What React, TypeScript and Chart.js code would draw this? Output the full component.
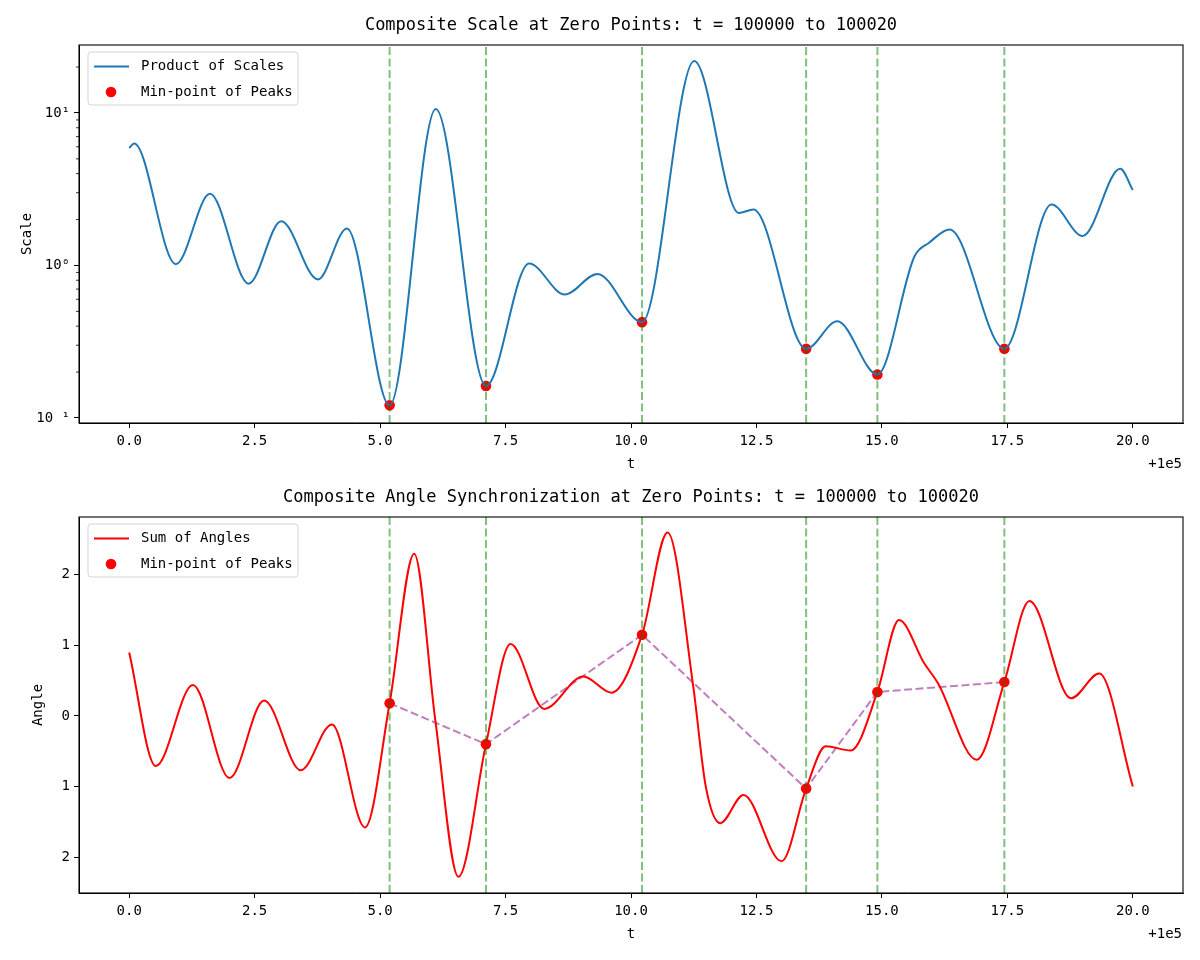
import { useEffect, useRef } from 'react'
import { Chart, registerables } from 'chart.js'

Chart.register(...registerables)

const FONT = '"DejaVu Sans Mono", "Liberation Mono", monospace'

// t offsets from 100000 (axis shows +1e5)
const scaleT = [
  0.0, 0.1, 0.93, 1.61, 2.38, 3.03, 3.76, 4.34, 5.19, 6.11, 7.11, 7.97, 8.68, 9.33, 10.22,
  11.26, 12.15, 12.44, 13.49, 14.11, 14.91, 15.65, 15.94, 16.35, 17.44, 18.38, 19.0,
  19.75, 20.0,
]
const scaleValues = [
  5.9, 6.3, 1.02, 2.95, 0.76, 1.95, 0.81, 1.75, 0.121, 10.6, 0.162, 1.03, 0.645, 0.88, 0.425,
  21.9, 2.21, 2.33, 0.284, 0.43, 0.193, 1.15, 1.41, 1.72, 0.284, 2.51, 1.56, 4.31, 3.12,
]

const angleT = [
  0.0, 0.53, 1.27, 2.0, 2.69, 3.42, 4.04, 4.7, 5.19, 5.68, 6.1, 6.56, 7.11, 7.6, 8.27, 9.05, 9.61,
  10.22, 10.73, 11.24, 11.49, 11.78, 12.24, 13.0, 13.49, 13.88, 14.38, 14.91, 15.34, 15.84, 16.12,
  16.89, 17.44, 17.94, 18.77, 19.33, 20.0,
]
const angleValues = [
  0.9, -0.71, 0.44, -0.88, 0.22, -0.77, -0.12, -1.58, 0.18, 2.3, -0.06, -2.28, -0.4, 1.02, 0.1, 0.56,
  0.33, 1.15, 2.6, 0.42, -1.0, -1.52, -1.12, -2.06, -1.03, -0.43, -0.49, 0.34, 1.36, 0.75, 0.46,
  -0.62, 0.48, 1.63, 0.25, 0.6, -1.0,
]

const peakT = [5.19, 7.11, 10.22, 13.49, 14.91, 17.44]
const peakScale = [0.121, 0.162, 0.425, 0.284, 0.193, 0.284]
const peakAngle = [0.18, -0.4, 1.15, -1.03, 0.34, 0.48]

const xTicks = [0, 2.5, 5, 7.5, 10, 12.5, 15, 17.5, 20]
const scaleTicks = [0.1, 1, 10]
const scaleMinorTicks = [0.2, 0.3, 0.4, 0.5, 0.6, 0.7, 0.8, 0.9, 2, 3, 4, 5, 6, 7, 8, 9, 20]
const angleTicks = [-2, -1, 0, 1, 2]

type PanelProps = {
  title: string
  yLabel: string
  yLabelX: number
  lineLabel: string
  lineColor: string
  t: number[]
  values: number[]
  peaks: number[]
  logY: boolean
  yMin: number
  yMax: number
  yTicks: number[]
  minorTicks: number[]
  tickLabel: (v: number) => string
  connectPeaks: boolean
  padTop: number
  axisHeight: number
}

function Panel(p: PanelProps) {
  const canvasRef = useRef<HTMLCanvasElement | null>(null)
  const chartRef = useRef<Chart | null>(null)

  useEffect(() => {
    if (!canvasRef.current) return
    const curve = p.t.map((x, i) => ({ x, y: p.values[i] }))
    const peaks = peakT.map((x, i) => ({ x, y: p.peaks[i] }))
    const vlines = peakT.flatMap((x) => [
      { x, y: p.yMin },
      { x, y: p.yMax },
      { x, y: null },
    ])

    const datasets: any[] = [
      {
        data: vlines,
        borderColor: 'rgba(0,128,0,0.5)',
        borderWidth: 2,
        borderDash: [8, 3.5],
        pointRadius: 0,
        spanGaps: false,
        order: 0,
      },
      {
        data: curve,
        borderColor: p.lineColor,
        borderWidth: 2,
        pointRadius: 0,
        cubicInterpolationMode: 'monotone',
        order: 1,
      },
      {
        data: peaks,
        showLine: false,
        pointRadius: 5.3,
        pointBackgroundColor: 'red',
        pointBorderWidth: 0,
        order: 2,
      },
    ]
    if (p.connectPeaks) {
      datasets.push({
        data: peaks,
        borderColor: 'rgba(128,0,128,0.5)',
        borderWidth: 2,
        borderDash: [8, 3.5],
        pointRadius: 0,
        order: 3,
      })
    }

    const overlay = {
      id: 'overlay',
      afterDraw(chart: Chart) {
        const { ctx, chartArea: a } = chart
        const yScale = chart.scales.y
        ctx.save()
        ctx.strokeStyle = '#000'
        ctx.lineWidth = 1.1
        ctx.strokeRect(a.left, a.top, a.right - a.left, a.bottom - a.top)

        ctx.lineWidth = 0.8
        p.minorTicks.forEach((v) => {
          const y = yScale.getPixelForValue(v)
          ctx.beginPath()
          ctx.moveTo(a.left - 3, y)
          ctx.lineTo(a.left, y)
          ctx.stroke()
        })

        ctx.fillStyle = '#000'
        ctx.textBaseline = 'middle'
        ctx.textAlign = 'center'
        ctx.font = `17px ${FONT}`
        ctx.fillText(p.title, (a.left + a.right) / 2, a.top - 19)

        ctx.font = `14px ${FONT}`
        ctx.fillText('t', (a.left + a.right) / 2, a.bottom + 41)
        ctx.textAlign = 'right'
        ctx.fillText('+1e5', a.right - 1, a.bottom + 41)

        ctx.save()
        ctx.translate(p.yLabelX, (a.top + a.bottom) / 2)
        ctx.rotate(-Math.PI / 2)
        ctx.textAlign = 'center'
        ctx.fillText(p.yLabel, 0, 0)
        ctx.restore()

        // legend
        const lx = a.left + 9
        const ly = a.top + 7
        ctx.fillStyle = 'rgba(255,255,255,0.8)'
        ctx.strokeStyle = '#d4d4d4'
        ctx.lineWidth = 1
        ctx.beginPath()
        ctx.roundRect(lx, ly, 210, 53, 3)
        ctx.fill()
        ctx.stroke()

        ctx.strokeStyle = p.lineColor
        ctx.lineWidth = 2
        ctx.beginPath()
        ctx.moveTo(lx + 6, ly + 14.5)
        ctx.lineTo(lx + 41, ly + 14.5)
        ctx.stroke()

        ctx.fillStyle = 'red'
        ctx.beginPath()
        ctx.arc(lx + 23, ly + 40, 5.3, 0, Math.PI * 2)
        ctx.fill()

        ctx.fillStyle = '#000'
        ctx.textAlign = 'left'
        ctx.fillText(p.lineLabel, lx + 53, ly + 14.5)
        ctx.fillText('Min-point of Peaks', lx + 53, ly + 40)
        ctx.restore()
      },
    }

    chartRef.current?.destroy()
    chartRef.current = new Chart(canvasRef.current, {
      type: 'line',
      data: { datasets },
      options: {
        responsive: false,
        animation: false,
        devicePixelRatio: 1,
        events: [],
        layout: { padding: { left: 0, right: 17, top: p.padTop, bottom: 0 } },
        plugins: {
          legend: { display: false },
          tooltip: { enabled: false },
          title: { display: false },
        },
        scales: {
          x: {
            type: 'linear',
            min: -1,
            max: 21,
            afterBuildTicks: (scale: any) => {
              scale.ticks = xTicks.map((value) => ({ value }))
            },
            afterFit: (scale: any) => {
              scale.height = p.axisHeight
            },
            ticks: {
              autoSkip: false,
              maxRotation: 0,
              padding: 5,
              color: '#000',
              font: { family: FONT, size: 14 },
              callback: (v: any) => Number(v).toFixed(1),
            },
            grid: { drawOnChartArea: false, tickLength: 5, color: '#000', tickWidth: 1 },
            border: { display: true, color: '#000', width: 1 },
          },
          y: {
            type: p.logY ? 'logarithmic' : 'linear',
            min: p.yMin,
            max: p.yMax,
            afterBuildTicks: (scale: any) => {
              scale.ticks = p.yTicks.map((value) => ({ value }))
            },
            afterFit: (scale: any) => {
              scale.width = 79
            },
            ticks: {
              autoSkip: false,
              padding: 4,
              color: '#000',
              font: { family: FONT, size: 14 },
              callback: (v: any) => p.tickLabel(Number(v)),
            },
            grid: { drawOnChartArea: false, tickLength: 5, color: '#000', tickWidth: 1 },
            border: { display: true, color: '#000', width: 1 },
          },
        },
      } as any,
      plugins: [overlay],
    })
    return () => chartRef.current?.destroy()
  }, [])

  return <canvas ref={canvasRef} width={1200} height={480} style={{ display: 'block' }} />
}

const logLabel = (v: number) => {
  if (Math.abs(v - 0.1) < 1e-9) return '10 ¹'
  if (Math.abs(v - 1) < 1e-9) return '10⁰'
  return '10¹'
}

export default function App() {
  useEffect(() => {
    document.body.style.margin = '0'
  }, [])

  return (
    <div style={{ width: 1200, height: 960, background: '#fff' }}>
      <Panel
        title='Composite Scale at Zero Points: t = 100000 to 100020'
        yLabel='Scale'
        yLabelX={27}
        lineLabel='Product of Scales'
        lineColor='#1f77b4'
        t={scaleT}
        values={scaleValues}
        peaks={peakScale}
        logY={true}
        yMin={0.0927}
        yMax={27.9}
        yTicks={scaleTicks}
        minorTicks={scaleMinorTicks}
        tickLabel={logLabel}
        connectPeaks={false}
        padTop={45}
        axisHeight={57}
      />
      <Panel
        title='Composite Angle Synchronization at Zero Points: t = 100000 to 100020'
        yLabel='Angle'
        yLabelX={38}
        lineLabel='Sum of Angles'
        lineColor='red'
        t={angleT}
        values={angleValues}
        peaks={peakAngle}
        logY={false}
        yMin={-2.51}
        yMax={2.82}
        yTicks={angleTicks}
        minorTicks={[]}
        tickLabel={(v) => String(Math.abs(v))}
        connectPeaks={true}
        padTop={37}
        axisHeight={67}
      />
    </div>
  )
}
